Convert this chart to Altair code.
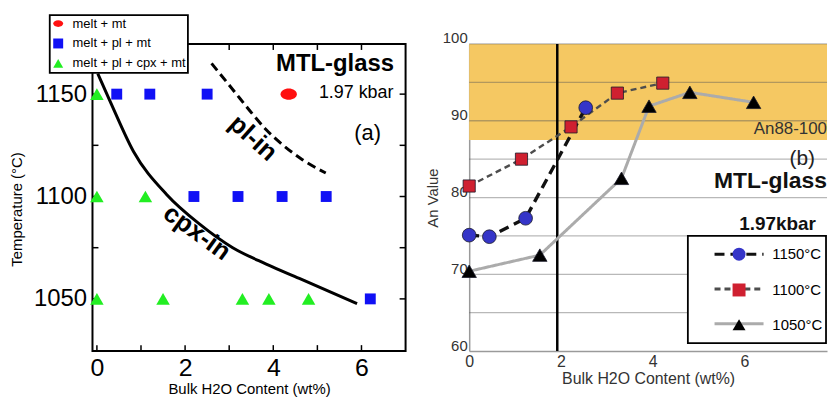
import altair as alt
import pandas as pd

FONT = "Liberation Sans"

# ---------------- Panel (a): phase diagram ----------------
phase_names = ["melt + mt", "melt + pl + mt", "melt + pl + cpx + mt"]
a_h2o = [0.0, 0.45, 1.2, 2.5, 4.35,
         0.0, 1.1, 2.2, 3.2, 4.2, 5.2,
         0.0, 1.5, 3.3, 3.9, 4.8, 6.2]
a_temp = [1150, 1150, 1150, 1150, 1150,
          1100, 1100, 1100, 1100, 1100, 1100,
          1050, 1050, 1050, 1050, 1050, 1050]
a_phase = ["melt + pl + cpx + mt", "melt + pl + mt", "melt + pl + mt", "melt + pl + mt", "melt + mt",
           "melt + pl + cpx + mt", "melt + pl + cpx + mt", "melt + pl + mt", "melt + pl + mt",
           "melt + pl + mt", "melt + pl + mt",
           "melt + pl + cpx + mt", "melt + pl + cpx + mt", "melt + pl + cpx + mt",
           "melt + pl + cpx + mt", "melt + pl + cpx + mt", "melt + pl + mt"]

cpx_h2o = [0.02, 0.31, 0.83, 1.58, 2.33, 3.08, 3.84, 4.59, 5.9]
cpx_temp = [1160, 1146, 1122, 1101, 1086.5, 1075, 1067, 1060, 1047.7]
pl_h2o = [2.6, 2.94, 3.24, 3.54, 3.84, 4.21, 4.66, 5.19]
pl_temp = [1165, 1156, 1148, 1140, 1132.6, 1125.3, 1118, 1111.5]

a_text = ["MTL-glass", "1.97 kbar", "(a)", "pl-in", "cpx-in"]
a_text_x = [5.4, 5.88, 6.14, 3.54, 2.27]
a_text_t = [1164.9, 1150.4, 1131, 1128.5, 1082.4]

a_xticks = [0, 1, 2, 3, 4, 5, 6]
a_yticks = [1050, 1075, 1100, 1125, 1150]

# ---------------- Panel (b): An value ----------------
b_series = ["1150°C", "1100°C", "1050°C"]
b_series_num = [1150, 1100, 1050]
b1150_h2o = [0.0, 0.44, 1.23, 2.54]
b1150_an = [75.1, 74.9, 77.3, 91.7]
b1100_h2o = [0.0, 1.14, 2.22, 3.23, 4.22]
b1100_an = [81.5, 85.0, 89.2, 93.6, 94.9]
b1050_h2o = [0.0, 1.54, 3.32, 3.92, 4.81, 6.2]
b1050_an = [70.4, 72.5, 82.5, 91.9, 93.7, 92.4]

band_lo = [87.5]
band_hi = [100]
grid_an = [65, 70, 75, 80, 85, 90, 95, 100]
vline_h2o = [1.92]

b_text = ["An88-100", "(b)", "MTL-glass", "1.97kbar"]
b_text_x = [7.8, 7.26, 7.8, 6.72]
b_text_an = [88.9, 85.0, 82.1, 76.6]

# ================= build panel (a) =================
AW, AH = 315, 309
adf = pd.DataFrame({"h2o": a_h2o, "temp": a_temp, "phase": a_phase})
cpx_df = pd.DataFrame({"h2o": cpx_h2o, "temp": cpx_temp})
pl_df = pd.DataFrame({"h2o": pl_h2o, "temp": pl_temp})
atext_df = pd.DataFrame({"label": a_text, "h2o": a_text_x, "temp": a_text_t})
axt_df = pd.DataFrame({"h2o": a_xticks})
ayt_df = pd.DataFrame({"temp": a_yticks})

a_xaxis = alt.Axis(values=[0, 2, 4, 6], title="Bulk H2O Content (wt%)", grid=False, domain=False,
                   ticks=False, labelFontSize=25, labelPadding=5, labelColor="black",
                   titleFontSize=15, titlePadding=1, titleColor="black", titleFontWeight="normal",
                   labelFlush=False)
a_yaxis = alt.Axis(values=[1050, 1100, 1150], format="d", title="Temperature (°C)", grid=False,
                   domain=False, ticks=False, labelFontSize=24, labelPadding=6, labelColor="black",
                   titleFontSize=15, titlePadding=9, titleColor="black", titleFontWeight="normal",
                   titleY=166)
ax_scale = alt.Scale(domain=[-0.1, 7.0], nice=False, zero=False)
ay_scale = alt.Scale(domain=[1024.5, 1174.5], nice=False, zero=False)


def AX(field="h2o"):
    return alt.X(f"{field}:Q", scale=ax_scale, axis=a_xaxis)


def AY(field="temp"):
    return alt.Y(f"{field}:Q", scale=ay_scale, axis=a_yaxis)


ellipse = "M-1,0A1,0.68,0,1,1,1,0A1,0.68,0,1,1,-1,0Z"
a_legend = alt.Legend(title=None, orient="none", legendX=-43, legendY=-29, padding=2, rowPadding=6,
                      symbolSize=100, labelFontSize=13, labelOffset=8, labelColor="black",
                      strokeColor="black", fillColor="white")

a_points = alt.Chart(adf).mark_point(filled=True, opacity=1).transform_calculate(
    sz="datum.phase == 'melt + mt' ? 270 : (datum.phase == 'melt + pl + mt' ? 120 : 185)"
).encode(
    x=AX(), y=AY(),
    color=alt.Color("phase:N", scale=alt.Scale(domain=phase_names, range=["#ff1010", "#1010f5", "#22ee22"]),
                    legend=a_legend),
    shape=alt.Shape("phase:N", scale=alt.Scale(domain=phase_names, range=[ellipse, "square", "triangle-up"]),
                    legend=a_legend),
    size=alt.Size("sz:Q", scale=None, legend=None),
)

a_cpx = alt.Chart(cpx_df).mark_line(color="black", strokeWidth=3, interpolate="monotone").encode(
    x=AX(), y=AY(), order="h2o:Q")
a_pl = alt.Chart(pl_df).mark_line(color="black", strokeWidth=3, strokeDash=[9, 5],
                                  interpolate="monotone").encode(x=AX(), y=AY(), order="h2o:Q")


def a_txt(label, **kw):
    return alt.Chart(atext_df).transform_filter(alt.datum.label == label).mark_text(
        font=FONT, color="black", baseline="middle", **kw).encode(x=AX(), y=AY(), text="label:N")


a_texts = [
    a_txt("MTL-glass", fontSize=24, fontWeight="bold"),
    a_txt("1.97 kbar", fontSize=18),
    a_txt("(a)", fontSize=22),
    a_txt("pl-in", fontSize=26, fontWeight="bold", angle=42),
    a_txt("cpx-in", fontSize=26, fontWeight="bold", angle=36),
]

tick_len = 6
a_tl = alt.Chart(ayt_df).mark_rule(color="black", strokeWidth=1.5).encode(
    y=AY(), x=alt.value(0), x2=alt.value(tick_len))
a_tr = alt.Chart(ayt_df).mark_rule(color="black", strokeWidth=1.5).encode(
    y=AY(), x=alt.value(AW - tick_len), x2=alt.value(AW))
a_tb = alt.Chart(axt_df).mark_rule(color="black", strokeWidth=1.5).encode(
    x=AX(), y=alt.value(AH - tick_len), y2=alt.value(AH))
a_tt = alt.Chart(axt_df).mark_rule(color="black", strokeWidth=1.5).encode(
    x=AX(), y=alt.value(0), y2=alt.value(tick_len))

panel_a = alt.layer(a_tl, a_tr, a_tb, a_tt, a_cpx, a_pl, a_points, *a_texts).properties(
    width=AW, height=AH, view=alt.ViewBackground(stroke="black", strokeWidth=2))

# ================= build panel (b) =================
BW, BH = 360, 309
rows = []
for name, num, xs, ys in [(b_series[0], b_series_num[0], b1150_h2o, b1150_an),
                          (b_series[1], b_series_num[1], b1100_h2o, b1100_an),
                          (b_series[2], b_series_num[2], b1050_h2o, b1050_an)]:
    for xv, yv in zip(xs, ys):
        rows.append({"series": name, "tc": num, "h2o": xv, "an": yv})
bdf = pd.DataFrame(rows)
band_df = pd.DataFrame({"an": band_lo, "an2": band_hi})
grid_df = pd.DataFrame({"an": grid_an})
vline_df = pd.DataFrame({"h2o": vline_h2o})
btext_df = pd.DataFrame({"label": b_text, "h2o": b_text_x, "an": b_text_an})

b_xaxis = alt.Axis(values=[0, 2, 4, 6], title="Bulk H2O Content (wt%)", grid=False, domainColor="#9a9a9a",
                   domainWidth=1.5, ticks=False, labelFontSize=16, labelColor="#333", labelPadding=2,
                   titleFontSize=16, titleColor="#333", titlePadding=2, titleFontWeight="normal",
                   labelFlush=False)
b_yaxis = alt.Axis(values=[60, 70, 80, 90, 100], title="An Value", grid=False, domainColor="#9a9a9a",
                   domainWidth=1.5, ticks=False, labelFontSize=15, labelColor="#333", labelPadding=2,
                   labelOffset=-6, titleFontSize=15, titleColor="#333", titlePadding=2,
                   titleFontWeight="normal")
bx_scale = alt.Scale(domain=[0, 7.8], nice=False, zero=False)
by_scale = alt.Scale(domain=[60, 100], nice=False, zero=False)


def BX(field="h2o"):
    return alt.X(f"{field}:Q", scale=bx_scale, axis=b_xaxis)


def BY(field="an"):
    return alt.Y(f"{field}:Q", scale=by_scale, axis=b_yaxis)


b_band = alt.Chart(band_df).mark_rect(color="#f5c862").encode(y=BY(), y2="an2:Q")
b_grid = alt.Chart(grid_df).mark_rule(color="#555555", opacity=0.42, strokeWidth=1.3).encode(y=BY())
b_vline = alt.Chart(vline_df).mark_rule(color="black", strokeWidth=2.5).encode(x=BX())

line_legend = alt.Legend(title=None, orient="none", legendX=220, legendY=193, padding=11, rowPadding=19,
                         symbolType="M-4.7,0H4.7", symbolSize=110, symbolStrokeWidth=3, symbolOffset=33,
                         labelFontSize=15, labelOffset=69, labelExpr="''",
                         strokeColor="black", fillColor="white")
shape_legend = alt.Legend(title=None, orient="none", legendX=226, legendY=199, padding=5, rowPadding=19,
                          symbolSize=170, symbolStrokeWidth=0.8, symbolStrokeColor="#222",
                          symbolOffset=33, labelFontSize=15, labelOffset=26, labelColor="black")

b_lines = alt.Chart(bdf).mark_line().transform_calculate(
    lw="datum.tc == 1150 ? 3.4 : (datum.tc == 1100 ? 2.4 : 3)"
).encode(
    x=BX(), y=BY(),
    color=alt.Color("tc:O", scale=alt.Scale(domain=b_series_num, range=["#111111", "#4d4d4d", "#ababab"]),
                    legend=line_legend),
    strokeDash=alt.StrokeDash("tc:O", scale=alt.Scale(domain=b_series_num, range=[[10, 6], [6, 4], [1, 0]]),
                              legend=line_legend),
    strokeWidth=alt.StrokeWidth("lw:Q", scale=None, legend=None),
    order="h2o:Q",
)
b_points = alt.Chart(bdf).mark_point(filled=True, opacity=1, stroke="#1a1a2a", strokeWidth=0.8).transform_calculate(
    sz="datum.tc == 1150 ? 190 : (datum.tc == 1100 ? 150 : 210)"
).encode(
    x=BX(), y=BY(),
    fill=alt.Fill("series:N", scale=alt.Scale(domain=b_series, range=["#3535c8", "#cf2030", "#000000"]),
                  legend=shape_legend),
    shape=alt.Shape("series:N", scale=alt.Scale(domain=b_series, range=["circle", "square", "triangle-up"]),
                    legend=shape_legend),
    size=alt.Size("sz:Q", scale=None, legend=None),
)


def b_txt(label, **kw):
    return alt.Chart(btext_df).transform_filter(alt.datum.label == label).mark_text(
        font=FONT, baseline="middle", **kw).encode(x=BX(), y=BY(), text="label:N")


b_texts = [
    b_txt("An88-100", fontSize=17, color="#333", align="right"),
    b_txt("(b)", fontSize=21, color="#222"),
    b_txt("MTL-glass", fontSize=23, fontWeight="bold", color="#111", align="right"),
    b_txt("1.97kbar", fontSize=19, fontWeight="bold", color="#111"),
]

panel_b = alt.layer(b_band, b_grid, b_vline, b_lines, b_points, *b_texts).properties(
    width=BW, height=BH)

chart = alt.hconcat(panel_a, panel_b, spacing=17).resolve_scale(
    x="independent", y="independent", color="independent", shape="independent",
    size="independent", fill="independent", strokeDash="independent", strokeWidth="independent"
).properties(
    padding={"left": 0, "top": 4, "right": 0, "bottom": 0}
).configure(font=FONT).configure_view(stroke="transparent").configure_legend(
    labelFont=FONT, strokeWidth=1.8
)

chart.save("out.html", embed_options={"renderer": "svg", "actions": False})
